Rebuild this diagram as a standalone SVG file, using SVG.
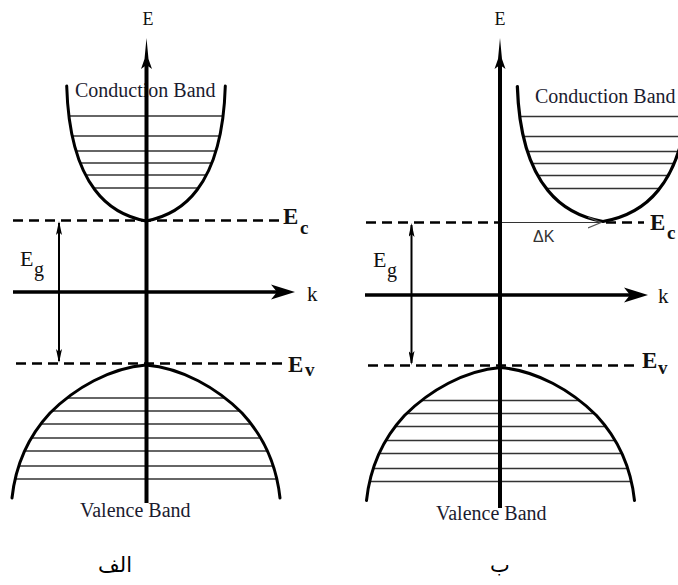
<svg xmlns="http://www.w3.org/2000/svg" xmlns:xlink="http://www.w3.org/1999/xlink" width="678" height="585" viewBox="0 0 678 585">
<style>
.curve{fill:none;stroke:#000;stroke-width:3;stroke-linejoin:round;stroke-linecap:round}
.lvl{stroke:#333;stroke-width:1.5}
.axis{stroke:#000;stroke-width:4}
.kaxis{stroke:#000;stroke-width:3.5}
.dash{stroke:#000;stroke-width:2.5;stroke-dasharray:10 6}
.eg{stroke:#000;stroke-width:2}
.serif{font-family:"Liberation Serif","Times New Roman",serif;fill:#111}
.band{font-size:20px;fill:#1b1b2f}
.bold{font-weight:bold}
.arabic{font-family:"DejaVu Sans","Noto Sans",sans-serif;font-size:21px;fill:#000}
</style>
<defs>
<path id="cbPath" d="M66.7,86 C68,130 76,165 95,190 C107,206 125,217 146,221 C167,217 185,206 197,190 C216,165 224,130 225.3,86"/>
<clipPath id="cbClip"><path d="M66.7,86 C68,130 76,165 95,190 C107,206 125,217 146,221 C167,217 185,206 197,190 C216,165 224,130 225.3,86 Z"/></clipPath>
<g id="cbLevels" class="lvl">
<line x1="50" y1="116" x2="240" y2="116"/>
<line x1="50" y1="136" x2="240" y2="136"/>
<line x1="50" y1="151" x2="240" y2="151"/>
<line x1="50" y1="163" x2="240" y2="163"/>
<line x1="50" y1="175" x2="240" y2="175"/>
<line x1="50" y1="188" x2="240" y2="188"/>
</g>
<path id="vbPath" d="M12,498 C15,470 25,440 50,413 C75,388 110,368 146,365 C182,368 217,388 242,413 C267,440 277,470 280,498"/>
<clipPath id="vbClip"><path d="M12,498 C15,470 25,440 50,413 C75,388 110,368 146,365 C182,368 217,388 242,413 C267,440 277,470 280,498 Z"/></clipPath>
<g id="vbLevels" class="lvl">
<line x1="0" y1="398" x2="300" y2="398"/>
<line x1="0" y1="411" x2="300" y2="411"/>
<line x1="0" y1="424" x2="300" y2="424"/>
<line x1="0" y1="438" x2="300" y2="438"/>
<line x1="0" y1="451" x2="300" y2="451"/>
<line x1="0" y1="466" x2="300" y2="466"/>
<line x1="0" y1="479" x2="300" y2="479"/>
</g>
<marker id="arrE" viewBox="0 0 31 12" refX="9" refY="6" markerWidth="31" markerHeight="12" markerUnits="userSpaceOnUse" orient="auto">
<path d="M0,0.5 L10,4 L31,6 L10,8 L0,11.5 L4,6 Z" fill="#000"/>
</marker>
<marker id="arrK" viewBox="0 0 24 16" refX="12" refY="8" markerWidth="24" markerHeight="16" markerUnits="userSpaceOnUse" orient="auto">
<path d="M24,8 L0,0.5 L6,8 L0,15.5 Z" fill="#000"/>
</marker>
<marker id="arrEg" viewBox="0 0 14 6" refX="12" refY="3" markerWidth="14" markerHeight="6" markerUnits="userSpaceOnUse" orient="auto-start-reverse">
<path d="M0,0 L14,3 L0,6 L3,3 Z" fill="#000"/>
</marker>
<marker id="arrDK" viewBox="0 0 14 12" refX="13" refY="6" markerWidth="14" markerHeight="12" markerUnits="userSpaceOnUse" orient="auto">
<path d="M0,0.5 L13,6 L0,11.5" fill="none" stroke="#555" stroke-width="1.2"/>
</marker>
</defs>

<!-- Panel a (الف) -->
<g id="a-conduction-band">
<g clip-path="url(#cbClip)"><use xlink:href="#cbLevels"/></g>
<use xlink:href="#cbPath" class="curve"/>
<text class="serif band" x="75" y="97">Conduction Band</text>
</g>
<g id="a-valence-band">
<g clip-path="url(#vbClip)"><use xlink:href="#vbLevels"/></g>
<use xlink:href="#vbPath" class="curve"/>
<text class="serif band" x="80" y="517">Valence Band</text>
</g>

<!-- Panel b (ب) -->
<g id="b-conduction-band">
<g transform="translate(603,0.5) scale(1.08,1) translate(-146,0)">
<g clip-path="url(#cbClip)"><use xlink:href="#cbLevels"/></g>
<use xlink:href="#cbPath" class="curve" vector-effect="non-scaling-stroke" style="vector-effect:non-scaling-stroke"/>
</g>
<text class="serif band" x="535" y="103">Conduction Band</text>
</g>
<g id="b-valence-band">
<g transform="translate(354.5,2.5)">
<g clip-path="url(#vbClip)"><use xlink:href="#vbLevels"/></g>
<use xlink:href="#vbPath" class="curve"/>
</g>
<text class="serif band" x="436" y="520">Valence Band</text>
</g>

<g id="connectors">
<line class="dash" x1="13" y1="220.5" x2="281" y2="220.5"/>
<line class="dash" x1="16" y1="363.5" x2="284" y2="363.5"/>
<line class="dash" x1="366" y1="222.5" x2="500" y2="222.5"/>
<line class="dash" x1="606" y1="222.5" x2="644" y2="222.5"/>
<line class="dash" x1="368" y1="365.5" x2="640" y2="365.5"/>
<line class="axis" x1="146.5" y1="503" x2="146.5" y2="60" marker-end="url(#arrE)"/>
<line class="kaxis" x1="13" y1="292" x2="283" y2="292" marker-end="url(#arrK)"/>
<line class="axis" x1="500" y1="508" x2="500" y2="60" marker-end="url(#arrE)"/>
<line class="kaxis" x1="365" y1="295" x2="636" y2="295" marker-end="url(#arrK)"/>
<line class="eg" x1="59" y1="223" x2="59" y2="361" marker-start="url(#arrEg)" marker-end="url(#arrEg)"/>
<line class="eg" x1="411.5" y1="225" x2="411.5" y2="363" marker-start="url(#arrEg)" marker-end="url(#arrEg)"/>
<line x1="502" y1="222.5" x2="601" y2="222.5" stroke="#333" stroke-width="1.2" marker-end="url(#arrDK)"/>
</g>

<g id="a-labels">
<text class="serif" x="148" y="25" font-size="18" text-anchor="middle">E</text>
<text class="serif" x="307" y="301" font-size="21">k</text>
<text class="serif" x="20" y="266" font-size="22">E</text>
<text class="serif" x="34" y="276" font-size="20">g</text>
<text class="serif bold" x="283" y="224" font-size="23">E</text>
<text class="serif bold" x="300" y="234" font-size="19" fill="#0f1d3d">c</text>
<text class="serif bold" x="288" y="372" font-size="23">E</text>
<text class="serif bold" x="305" y="376" font-size="19" fill="#0f1d3d">v</text>
<text class="arabic" x="115" y="572" text-anchor="middle">الف</text>
</g>
<g id="b-labels">
<text class="serif" x="500" y="25" font-size="18" text-anchor="middle">E</text>
<text class="serif" x="658" y="303" font-size="21">k</text>
<text class="serif" x="373" y="267" font-size="22">E</text>
<text class="serif" x="387" y="277" font-size="20">g</text>
<text class="serif bold" x="650" y="230" font-size="23">E</text>
<text class="serif bold" x="667" y="239" font-size="19" fill="#0f1d3d">c</text>
<text class="serif bold" x="642" y="368" font-size="23">E</text>
<text class="serif bold" x="658" y="374" font-size="19" fill="#0f1d3d">v</text>
<text x="533" y="242" font-family="'Liberation Sans',Arial,sans-serif" font-size="16" fill="#333">ΔK</text>
<text class="arabic" x="500" y="572" text-anchor="middle">ب</text>
</g>
</svg>
